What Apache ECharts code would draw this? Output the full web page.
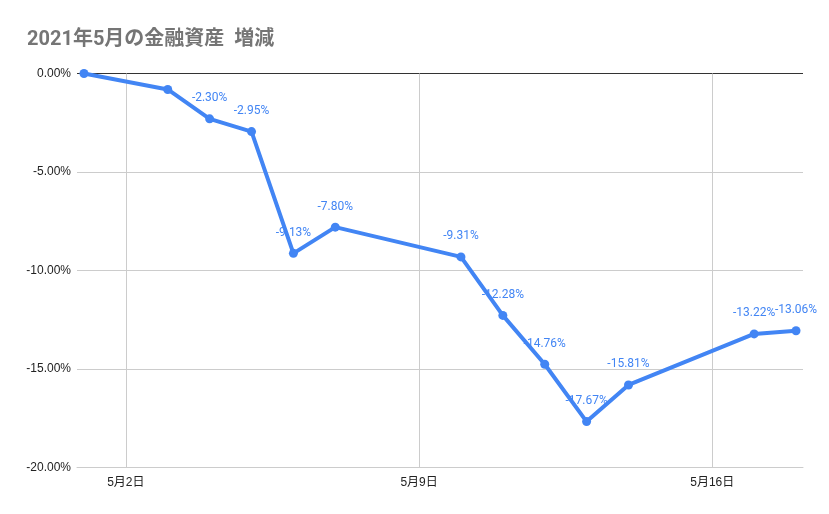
<!DOCTYPE html>
<html><head><meta charset="utf-8">
<script src="https://cdn.jsdelivr.net/npm/echarts@6/dist/echarts.min.js"></script>
<style>html,body{margin:0;padding:0;background:#fff}#c{width:829px;height:514px}</style>
</head><body><div id="c"></div>
<script>
const dates = ['2021-05-01','2021-05-03','2021-05-04','2021-05-05','2021-05-06','2021-05-07','2021-05-10','2021-05-11','2021-05-12','2021-05-13','2021-05-14','2021-05-17','2021-05-18'];
const values = [0, -0.81, -2.30, -2.95, -9.13, -7.80, -9.31, -12.28, -14.76, -17.67, -15.81, -13.22, -13.06];
const showLabel = [false, false, true, true, true, true, true, true, true, true, true, true, true];
const tickDates = ['2021-05-02','2021-05-09','2021-05-16'];
const tickLabels = ['5月2日','5月9日','5月16日'];

// x as days since 2021-05-01 (fractional days allowed)
function dayNum(s){ const p = s.split('-').map(Number); return (Date.UTC(p[0], p[1]-1, p[2]) - Date.UTC(2021, 4, 1)) / 86400000; }
const tickX = tickDates.map(dayNum);
const font = 'Roboto, "Noto Sans CJK JP", sans-serif';
const axisFont = 'Arial, "Liberation Sans", "Noto Sans CJK JP", sans-serif';

const chart = echarts.init(document.getElementById('c'));
chart.setOption({
  animation: false,
  title: {
    text: '2021年5月の金融資産  増減',
    left: 22, top: 25,
    textStyle: { fontSize: 20, fontWeight: 'bold', color: '#757575', fontFamily: font }
  },
  grid: { left: 77, right: 26, top: 73.5, bottom: 46.5 },
  xAxis: {
    type: 'value',
    min: dayNum('2021-05-01') - 1/6,
    max: dayNum('2021-05-18') + 1/6,
    axisLine: { show: true, onZero: false, lineStyle: { color: '#cccccc', width: 1 } },
    axisTick: { show: false, customValues: tickX },
    axisLabel: {
      customValues: tickX,
      color: '#222', fontSize: 12, fontFamily: axisFont, margin: 9,
      formatter: function (v) { const i = tickX.findIndex(t => Math.abs(t - v) < 1e-6); return i >= 0 ? tickLabels[i] : ''; }
    },
    splitLine: { show: true, lineStyle: { color: '#cccccc', width: 1 } }
  },
  yAxis: {
    type: 'value',
    min: -20, max: 0, interval: 5,
    axisLine: { show: false },
    axisTick: { show: false },
    axisLabel: {
      color: '#222', fontSize: 12, fontFamily: axisFont, margin: 6,
      formatter: v => v.toFixed(2) + '%'
    },
    splitLine: { show: true, lineStyle: { color: ['#cccccc','#cccccc','#cccccc','#cccccc','#333333'], width: 1 } }
  },
  series: [{
    type: 'line',
    data: dates.map((d, i) => [dayNum(d), values[i]]),
    symbol: 'circle', symbolSize: 9,
    lineStyle: { color: '#4285F4', width: 4 },
    itemStyle: { color: '#4285F4' },
    label: {
      show: true, position: 'top', distance: 10,
      color: '#4285F4', fontSize: 12, fontFamily: font,
      formatter: p => showLabel[p.dataIndex] ? values[p.dataIndex].toFixed(2) + '%' : ''
    },
    z: 3
  }]
});
</script></body></html>
